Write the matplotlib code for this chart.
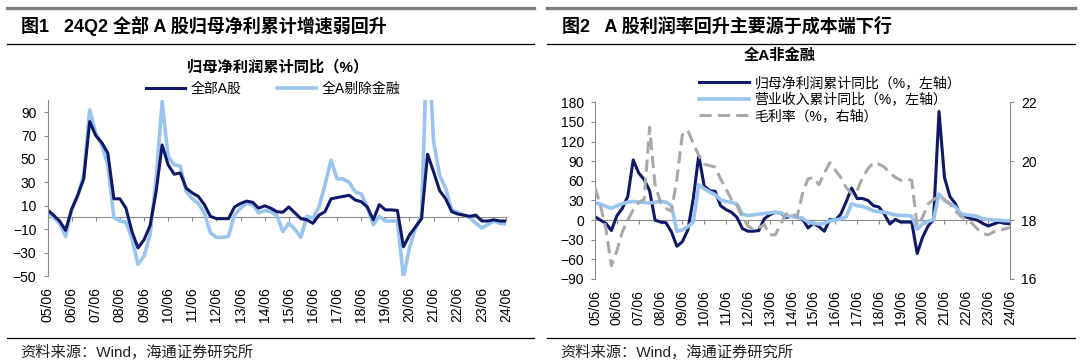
import numpy as np
import matplotlib
matplotlib.use("Agg")
import matplotlib.pyplot as plt
from matplotlib.lines import Line2D

# quarterly data, 2005Q2 .. 2024Q2
year_labels = ['05/06', '06/06', '07/06', '08/06', '09/06', '10/06', '11/06',
               '12/06', '13/06', '14/06', '15/06', '16/06', '17/06', '18/06',
               '19/06', '20/06', '21/06', '22/06', '23/06', '24/06']

# 全部A股 归母净利累计同比 (%)
profit_all = [6.5, 2, -3, -11, 7, 19, 33, 82, 70, 64, 55, 16, 16, 8, -12, -26, -19, -7, 22, 62,
              45, 37, 38, 25, 21, 18, 11, 1, -1, -1, -1, 9, 12, 14, 13, 8, 10, 8, 5, 4.5,
              9, 4, -1, -2, -5, 2, 5, 16, 17, 18, 19, 15, 13.5, 9, -2, 11, 6.5, 6.5, 6, -25,
              -15, -8, -1, 54, 39, 23, 16, 5, 3, 2, 1, 2, -3, -3, -2, -3, -3]

# 全A剔除金融 (= 全A非金融) 归母净利累计同比 (%)
profit_exfin = [5, 0, -5, -16, 6.5, 18, 36, 92, 72, 62, 45, 0, -3, -4, -18, -40, -33, -15, 33, 99,
                52, 45, 44, 22, 16, 12, 4, -13, -17, -17, -16, 2, 8, 12, 11, 4, 6, 5, 2, -12,
                -5, -10, -17, 1, -0.5, 9, 28, 49, 33, 33, 30, 22, 20, 9, -6, 1, -3, -3, -3, -51,
                -26, -9, 1, 166, 65, 36, 25, 6.5, 4.5, 2, 0, -5, -9, -6, -3, -5, -5.5]

# 全A非金融 营业收入累计同比 (%)
revenue_exfin = [26, 24.5, 21, 18, 22, 25, 27.5, 28.5, 27.5, 27, 26, 27.5, 28.5, 27.5, 22, -17, -15, -10, -3, 54,
                 48, 43, 39, 31, 28.5, 27, 24.5, 9, 7, 8, 9, 10, 11, 12, 11, 7, 5.5, 4, 3, -3,
                 -5, -6, -5, -1, 0, 2, 5, 25, 22, 21, 18, 14, 13, 12, 10, 8, 7, 7, 6, -14,
                 -6, -2, 1, 40, 30, 25, 20, 10, 8, 7, 6, 2, 1, 0, 0, -1, -1]

# 全A非金融 毛利率 (%)
gross_margin = [19.1, 18.5, 17.7, 16.45, 16.95, 17.6, 18.0, 18.35, 18.6, 18.7, 21.15, 19.2, 18.6, 18.4, 18.3, 19.4, 20.9, 21.05, 20.6, 20.2,
                19.9, 19.85, 19.8, 19.4, 19.05, 18.7, 18.5, 18.1, 17.8, 17.68, 17.73, 17.85, 17.5, 17.5, 17.85, 18.2, 18.25, 18.1, 18.9, 19.4,
                19.45, 19.2, 19.6, 19.95, 19.7, 19.45, 19.1, 18.9, 19.0, 19.45, 19.75, 19.95, 19.9, 19.8, 19.6, 19.45, 19.35, 19.4, 19.35, 17.8,
                18.1, 18.55, 18.7, 18.8, 18.7, 18.55, 18.3, 18.15, 18.0, 17.9, 17.7, 17.55, 17.5, 17.6, 17.65, 17.7, 17.75]

DARK = '#101868'
LIGHT = '#99c4ee'
GREY = '#a9a9a9'
AXIS = '#8c8c8c'
CJK = ['Liberation Sans', 'Noto Sans CJK SC', 'DejaVu Sans']

plt.rcParams['font.family'] = CJK

W, H = 1080, 364
TICK_FS = 10
LEG_FS = 10


def fx(px):
    return px / W


def fy(py):
    return 1 - py / H


def axes_box(x0, x1, top, bottom):
    return [fx(x0), fy(bottom), (x1 - x0) / W, (bottom - top) / H]


def style_axes(ax, ymin, ymax, yticks):
    x = np.arange(len(profit_all))
    ax.set_xlim(x[0], x[-1])
    ax.set_ylim(ymin, ymax)
    ax.set_yticks(yticks)
    tick_pos = x[::4]
    ax.set_xticks(tick_pos)
    ax.set_xticklabels(year_labels, rotation=90, fontsize=TICK_FS)
    ax.tick_params(axis='x', length=0, pad=8)
    ax.tick_params(axis='y', length=3, color=AXIS, labelsize=TICK_FS, pad=5)
    for s in ['top', 'right', 'bottom']:
        ax.spines[s].set_visible(False)
    ax.spines['left'].set_color(AXIS)
    # horizontal axis through zero with year ticks
    zero = ax.secondary_xaxis((0 - ymin) / (ymax - ymin))
    zero.set_xticks(tick_pos)
    zero.set_xticklabels([])
    zero.tick_params(length=3, color=AXIS)
    zero.spines['bottom'].set_color(AXIS)
    zero.spines['top'].set_visible(False)
    return x


fig = plt.figure(figsize=(10.8, 3.64), dpi=100)

# panel frames and headers
for x0, x1 in [(7, 534), (547, 1075)]:
    fig.add_artist(Line2D([fx(x0), fx(x1)], [fy(8), fy(8)], color='#7f7f7f', lw=2.4))
    fig.add_artist(Line2D([fx(x0), fx(x1)], [fy(44), fy(44)], color='black', lw=0.9))
    fig.add_artist(Line2D([fx(x0), fx(x1)], [fy(338), fy(338)], color='black', lw=0.9))
    fig.text(fx(x0 + 13), fy(352), '资料来源：Wind，海通证券研究所', fontsize=11,
             va='center', ha='left', color='#222222')

fig.text(fx(21), fy(26), '图1   24Q2 全部 A 股归母净利累计增速弱回升', fontsize=13,
         fontweight='bold', va='center', ha='left')
fig.text(fx(562), fy(26), '图2   A 股利润率回升主要源于成本端下行', fontsize=13,
         fontweight='bold', va='center', ha='left')

# ---- left chart ----
ax1 = fig.add_axes(axes_box(47.5, 506, 100.5, 276))
x = style_axes(ax1, -50, 100, [-50, -30, -10, 10, 30, 50, 70, 90])
h_light, = ax1.plot(x, profit_exfin, color=LIGHT, lw=2.6)
h_dark, = ax1.plot(x, profit_all, color=DARK, lw=2.2)
fig.text(fx(278), fy(67), '归母净利润累计同比（%）', fontsize=11, fontweight='bold',
         ha='center', va='center')
ax1.legend([h_dark, h_light], ['全部A股', '全A剔除金融'], ncol=2, frameon=False,
           loc='center', bbox_to_anchor=(fx(273), fy(89)), bbox_transform=fig.transFigure,
           fontsize=LEG_FS, handlelength=2.8, columnspacing=2.6, handletextpad=0.4)

# ---- right chart ----
ax2 = fig.add_axes(axes_box(595, 1010, 102.3, 279))
x = style_axes(ax2, -90, 180, [-90, -60, -30, 0, 30, 60, 90, 120, 150, 180])
r_profit, = ax2.plot(x, profit_exfin, color=DARK, lw=2.2)
r_rev, = ax2.plot(x, revenue_exfin, color=LIGHT, lw=2.6)
ax3 = ax2.twinx()
r_gm, = ax3.plot(x, gross_margin, color=GREY, lw=2.2, dashes=(4, 2))
ax3.set_ylim(16, 22)
ax3.set_yticks([16, 18, 20, 22])
ax3.tick_params(axis='y', length=3, color=AXIS, labelsize=TICK_FS, pad=5)
for s in ['top', 'left', 'bottom']:
    ax3.spines[s].set_visible(False)
ax3.spines['right'].set_color(AXIS)

fig.text(fx(780), fy(56), '全A非金融', fontsize=11, fontweight='bold',
         ha='center', va='center')
ax2.legend([r_profit, r_rev, r_gm],
           ['归母净利润累计同比（%，左轴）', '营业收入累计同比（%，左轴）', '毛利率（%，右轴）'],
           frameon=False, loc='upper left', bbox_to_anchor=(fx(692), fy(69)),
           bbox_transform=fig.transFigure, fontsize=LEG_FS, handlelength=3.6,
           labelspacing=0.18, handletextpad=0.4, borderpad=0)

fig.savefig('out.png', dpi=100)
